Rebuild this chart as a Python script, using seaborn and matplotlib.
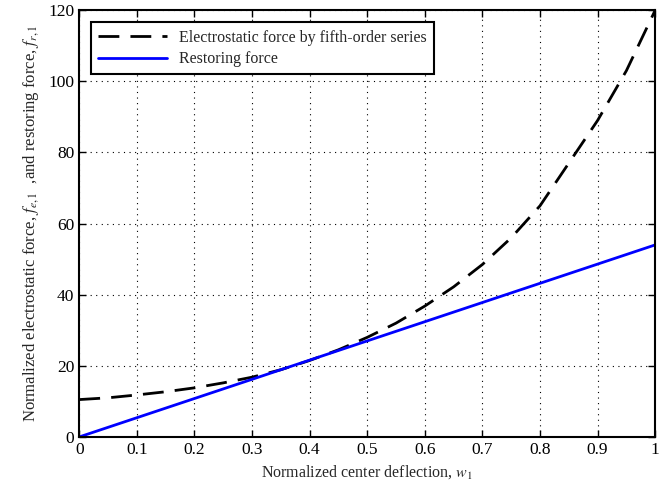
import numpy as np
import pandas as pd
import matplotlib
matplotlib.use("Agg")
import matplotlib.pyplot as plt
import seaborn as sns

# Data
w_elec = [0.00, 0.05, 0.10, 0.15, 0.20, 0.25, 0.30, 0.35, 0.40, 0.45, 0.50,
          0.55, 0.60, 0.65, 0.70, 0.75, 0.80, 0.85, 0.90, 0.95, 1.00]
f_elec = [10.5, 11.0, 11.8, 12.7, 13.8, 15.2, 16.8, 18.9, 21.5, 24.5, 28.0,
          32.0, 36.8, 42.2, 48.5, 56.0, 65.0, 77.0, 89.0, 103.0, 120.0]
w_rest = [0.0, 0.5, 1.0]
f_rest = [0.0, 27.0, 54.0]

label_elec = "Electrostatic force by fifth-order series"
label_rest = "Restoring force"

df = pd.concat([
    pd.DataFrame({"w": w_elec, "f": f_elec, "series": label_elec}),
    pd.DataFrame({"w": w_rest, "f": f_rest, "series": label_rest}),
], ignore_index=True)

sns.set_style("white")
plt.rcParams["font.family"] = ["Liberation Serif", "DejaVu Serif"]
plt.rcParams["mathtext.fontset"] = "stix"

fig, ax = plt.subplots(figsize=(6.72, 4.86), dpi=100)
fig.subplots_adjust(left=0.118, right=0.975, bottom=0.101, top=0.979)

sns.lineplot(data=df, x="w", y="f", hue="series", style="series",
             palette={label_elec: "black", label_rest: "#0000ff"},
             dashes={label_elec: (7.5, 4), label_rest: ""},
             linewidth=2.0, ax=ax)

ax.set_xlim(0, 1)
ax.set_ylim(0, 120)
ax.set_xticks(np.arange(0, 1.01, 0.1))
ax.set_xticklabels(["0", "0.1", "0.2", "0.3", "0.4", "0.5", "0.6", "0.7", "0.8", "0.9", "1"])
ax.set_yticks(np.arange(0, 121, 20))
ax.tick_params(direction="in", length=5, width=1, labelsize=12.5, top=True, right=True,
               bottom=True, left=True, colors="black")
ax.grid(True, color="black", linestyle=(0, (1, 4)), linewidth=0.8)
for s in ax.spines.values():
    s.set_color("black")
    s.set_linewidth(1.5)

ax.set_xlabel(r"Normalized center deflection, $w_1$", fontsize=11.5, labelpad=4)
ax.set_ylabel(r"Normalized electrostatic force, $f_{e,1}$  ,and restoring force, $f_{r,1}$",
              fontsize=12, labelpad=5)

leg = ax.legend(loc="upper left", fontsize=11.5, handlelength=4.3, frameon=True,
                fancybox=False, edgecolor="black", framealpha=1,
                borderpad=0.45, labelspacing=0.35, bbox_to_anchor=(0.006, 0.99))
leg.get_frame().set_linewidth(1.5)
leg.set_title(None)

fig.savefig("out.png", dpi=100)
